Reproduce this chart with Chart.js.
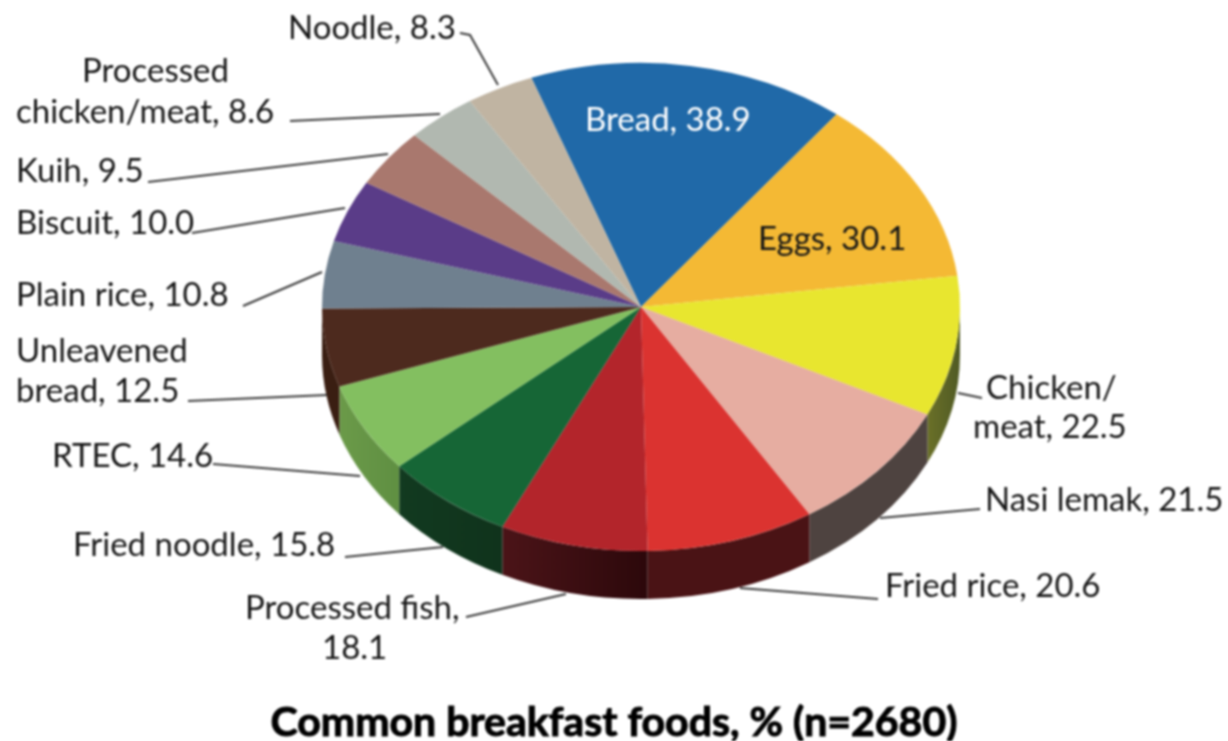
<!DOCTYPE html>
<html>
<head>
<meta charset="utf-8">
<title>Common breakfast foods</title>
<script src="https://cdn.jsdelivr.net/npm/chart.js@4/dist/chart.umd.min.js"></script>
<style>
  html, body { margin: 0; background: #fff; overflow: hidden; }
  canvas { display: block; filter: blur(0.8px); }
</style>
</head>
<body>
<canvas id="chart" width="1228" height="741"></canvas>
<script>
var categories = ['Bread', 'Eggs', 'Chicken/meat', 'Nasi lemak', 'Fried rice', 'Processed fish', 'Fried noodle',
  'RTEC', 'Unleavened bread', 'Plain rice', 'Biscuit', 'Kuih', 'Processed chicken/meat', 'Noodle'];
var values = [38.9, 30.1, 22.5, 21.5, 20.6, 18.1, 15.8, 14.6, 12.5, 10.8, 10.0, 9.5, 8.6, 8.3];
var sliceLabels = [['Bread, 38.9'], ['Eggs, 30.1'], ['Chicken/', 'meat, 22.5'], ['Nasi lemak, 21.5'], ['Fried rice, 20.6'],
  ['Processed fish,', '18.1'], ['Fried noodle, 15.8'], ['RTEC, 14.6'], ['Unleavened', 'bread, 12.5'], ['Plain rice, 10.8'],
  ['Biscuit, 10.0'], ['Kuih, 9.5'], ['Processed', 'chicken/meat, 8.6'], ['Noodle, 8.3']];
var titleText = 'Common breakfast foods, % (n=2680)';

var topColors = ['#2069a8', '#f4b934', '#e8e62f', '#e6ada1', '#db3330', '#b3252b', '#166636',
  '#83bf60', '#4d2a1e', '#6f808f', '#5a3c88', '#a9786e', '#b1b8b0', '#c0b4a2'];
var wallColors = [['#123a60', '#123a60'], ['#8a6a20', '#8a6a20'], ['#6a7028', '#505a24'], ['#4e4340', '#4e4340'],
  ['#4a1315', '#4a1315'], ['#4b1418', '#2c080b'], ['#123a20', '#10331c'], ['#6b9a49', '#5f8f42'],
  ['#3a1e12', '#3a1e12'], ['#444', '#444'], ['#333', '#333'], ['#666', '#666'], ['#777', '#777'], ['#777', '#777']];

// label position per line: x of left edge, y of middle
var labelSpots = [[[585, 120]], [[758, 239]], [[986, 388], [973, 427]], [[985, 500]], [[885, 586]],
  [[245, 608], [322, 648]], [[73, 545]], [[52, 456]], [[16, 351], [16, 391]], [[16, 295]],
  [[16, 223]], [[16, 171]], [[82, 71], [16, 112]], [[288, 28]]];
var leaderLines = [
  [[460, 33], [470, 35], [498, 85]], [[290, 121], [440, 114]], [[148, 182], [388, 154]], [[192, 233], [345, 208]],
  [[243, 306], [322, 272]], [[188, 401], [327, 395]], [[213, 464], [360, 476]], [[345, 557], [443, 547]],
  [[466, 617], [566, 594]], [[878, 599], [740, 588]], [[980, 509], [880, 518]], [[982, 398], [958, 393]]
];

var centerY = 307;
var squash = 0.765;
var depth = 48;
var labelFont = '33px Lato, sans-serif';
var titleFont = 'bold 41px Lato, sans-serif';

var pie3d = {
  id: 'pie3d',
  beforeDatasetsDraw: function (chart) {
    var ctx = chart.ctx;
    var arcs = chart.getDatasetMeta(0).data;
    arcs.forEach(function (arc, i) {
      var p = arc.getProps(['x', 'y', 'startAngle', 'endAngle', 'outerRadius'], true);
      var rx = p.outerRadius;
      var ry = rx * squash;
      // only the part of the rim in the lower half shows
      [-2 * Math.PI, 0, 2 * Math.PI].forEach(function (shift) {
        var a0 = Math.max(p.startAngle + shift, 0);
        var a1 = Math.min(p.endAngle + shift, Math.PI);
        if (a1 <= a0) return;
        var grad = ctx.createLinearGradient(p.x + rx * Math.cos(a1), 0, p.x + rx * Math.cos(a0), 0);
        grad.addColorStop(0, wallColors[i][0]);
        grad.addColorStop(1, wallColors[i][1]);
        ctx.beginPath();
        ctx.ellipse(p.x, centerY, rx, ry, 0, a0, a1);
        ctx.ellipse(p.x, centerY + depth, rx, ry, 0, a1, a0, true);
        ctx.closePath();
        ctx.fillStyle = grad;
        ctx.fill();
      });
    });
    var first = arcs[0];
    ctx.save();
    ctx.translate(first.x, centerY);
    ctx.scale(1, squash);
    ctx.translate(-first.x, -first.y);
  },
  afterDatasetsDraw: function (chart) {
    chart.ctx.restore();
  },
  afterDraw: function (chart) {
    var ctx = chart.ctx;
    ctx.save();
    ctx.strokeStyle = '#3c3c3c';
    ctx.lineWidth = 2;
    leaderLines.forEach(function (line) {
      ctx.beginPath();
      line.forEach(function (pt, k) {
        if (k === 0) ctx.moveTo(pt[0], pt[1]);
        else ctx.lineTo(pt[0], pt[1]);
      });
      ctx.stroke();
    });
    ctx.font = labelFont;
    ctx.textAlign = 'left';
    ctx.textBaseline = 'middle';
    sliceLabels.forEach(function (lines, i) {
      ctx.fillStyle = i === 0 ? '#fff' : '#161616';
      lines.forEach(function (text, k) {
        ctx.fillText(text, labelSpots[i][k][0], labelSpots[i][k][1]);
      });
    });
    ctx.font = titleFont;
    ctx.textAlign = 'center';
    ctx.fillStyle = '#000';
    ctx.strokeStyle = '#000';
    ctx.lineWidth = 1;
    ctx.fillText(titleText, 614, 723);
    ctx.strokeText(titleText, 614, 723);
    ctx.restore();
  }
};

new Chart(document.getElementById('chart'), {
  type: 'pie',
  data: {
    labels: categories,
    datasets: [{ data: values, backgroundColor: topColors, borderWidth: 0, hoverOffset: 0 }]
  },
  options: {
    responsive: false,
    animation: false,
    rotation: -20.1,
    layout: { padding: { left: 322, right: 268, top: 0, bottom: 0 } },
    events: [],
    plugins: {
      legend: { display: false },
      tooltip: { enabled: false }
    }
  },
  plugins: [pie3d]
});
</script>
</body>
</html>
